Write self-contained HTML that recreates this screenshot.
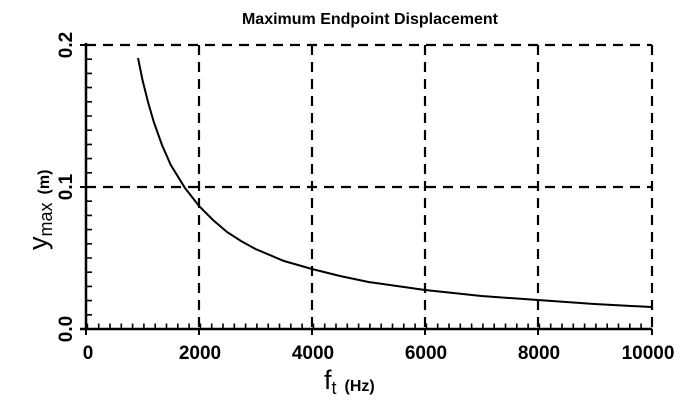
<!DOCTYPE html>
<html><head><style>body{margin:0;background:#fff}svg{display:block}</style></head><body>
<svg width="696" height="404" xmlns="http://www.w3.org/2000/svg" font-family="Liberation Sans, sans-serif" font-weight="bold">
<rect width="696" height="404" fill="#fff"/>
<text x="370" y="24" font-size="16" text-anchor="middle">Maximum  Endpoint  Displacement</text>
<g stroke="#000" stroke-width="2.2" stroke-dasharray="10 7" fill="none">
<line x1="86" y1="45" x2="652" y2="45"/>
<line x1="86" y1="187" x2="652" y2="187"/>
<line x1="652" y1="45" x2="652" y2="329"/>
<line x1="199" y1="45" x2="199" y2="329"/>
<line x1="312" y1="45" x2="312" y2="329"/>
<line x1="425" y1="45" x2="425" y2="329"/>
<line x1="538" y1="45" x2="538" y2="329"/>
</g>
<g stroke="#000" fill="none">
<line x1="86" y1="43" x2="86" y2="330" stroke-width="2.5"/>
<line x1="80" y1="329" x2="652" y2="329" stroke-width="2.5"/>
<line x1="86" y1="326" x2="652" y2="326" stroke-width="5" stroke-dasharray="1.6 9.7" stroke-dashoffset="-0.6"/>
<line x1="89" y1="45" x2="89" y2="329" stroke-width="6" stroke-dasharray="1.6 12.6" stroke-dashoffset="0.8"/>
<line x1="80" y1="45" x2="86" y2="45" stroke-width="2"/>
<line x1="80" y1="187" x2="86" y2="187" stroke-width="2"/>
<line x1="86" y1="329" x2="86" y2="335" stroke-width="2"/>
<line x1="199" y1="329" x2="199" y2="335" stroke-width="2"/>
<line x1="312" y1="329" x2="312" y2="335" stroke-width="2"/>
<line x1="425" y1="329" x2="425" y2="335" stroke-width="2"/>
<line x1="538" y1="329" x2="538" y2="335" stroke-width="2"/>
<line x1="652" y1="329" x2="652" y2="335" stroke-width="2"/>
<polyline stroke-width="2" points="138,58 142.5,80 148,102 153.8,122 162,145 170.8,165 185,188 199,206 213,220 227,232 241,241 255.5,249 284,261 312,269 340,276 368.5,282 425,290 481.5,296 538,300 594.5,304 651,307"/>
</g>
<g font-size="19" text-anchor="middle">
<text x="88" y="359">0</text>
<text x="200" y="359">2000</text>
<text x="313" y="359">4000</text>
<text x="426" y="359">6000</text>
<text x="539" y="359">8000</text>
<text x="648" y="359">10000</text>
</g>
<g font-size="19" text-anchor="middle">
<text transform="translate(72,329) rotate(-90)">0.0</text>
<text transform="translate(72,187) rotate(-90)">0.1</text>
<text transform="translate(72,45) rotate(-90)">0.2</text>
</g>
<text x="324" y="389" font-size="27" font-weight="normal">f<tspan font-size="18" dy="5">t</tspan><tspan font-size="16" font-weight="bold" dx="8" dy="-3">(Hz)</tspan></text>
<text transform="translate(47,250) rotate(-90)" font-size="27" font-weight="normal">y<tspan font-size="18" dy="5">max</tspan><tspan font-size="16" font-weight="bold" dx="8" dy="-3">(m)</tspan></text>
</svg>
</body></html>
